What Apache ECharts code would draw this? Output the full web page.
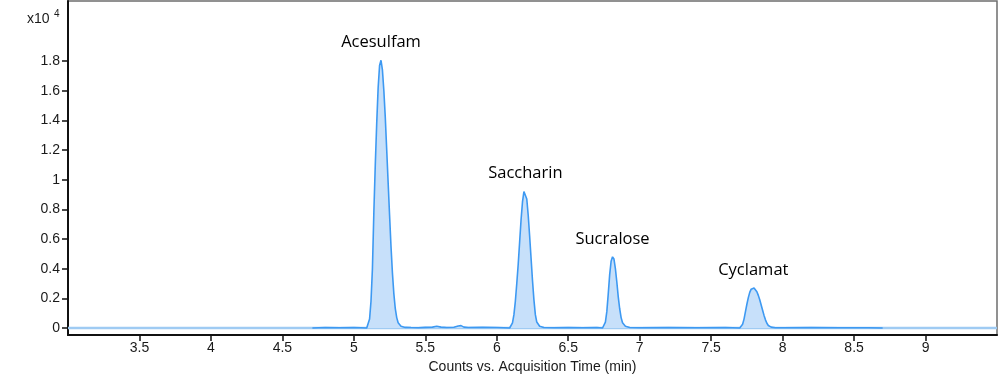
<!DOCTYPE html>
<html>
<head>
<meta charset="utf-8">
<script src="https://cdn.jsdelivr.net/npm/echarts@6/dist/echarts.min.js"></script>
<style>
html,body{margin:0;padding:0;background:#fff;}
#c{width:1000px;height:375px;}
</style>
</head>
<body>
<div id="c"></div>
<script>
// Acquisition time (min) and signal (counts) of the main trace
const times = [
  4.71, 4.80, 4.90, 5.00, 5.05,
  5.09, 5.10, 5.11, 5.12, 5.13, 5.14, 5.15, 5.16, 5.17, 5.18, 5.19, 5.20, 5.21, 5.22, 5.23, 5.24, 5.25, 5.26, 5.27, 5.28, 5.29, 5.30, 5.31, 5.33, 5.36,
  5.40, 5.45, 5.50, 5.55, 5.58, 5.61, 5.65, 5.70, 5.73, 5.75, 5.77, 5.80, 5.90, 6.00, 6.05,
  6.09, 6.10, 6.11, 6.12, 6.13, 6.14, 6.15, 6.16, 6.17, 6.18, 6.19, 6.20, 6.21, 6.22, 6.23, 6.24, 6.25, 6.26, 6.27, 6.28, 6.30, 6.33,
  6.40, 6.50, 6.60, 6.70,
  6.74, 6.75, 6.76, 6.77, 6.78, 6.79, 6.80, 6.81, 6.82, 6.83, 6.84, 6.85, 6.86, 6.87, 6.88, 6.90, 6.93,
  7.00, 7.20, 7.40, 7.60,
  7.70, 7.71, 7.72, 7.73, 7.74, 7.75, 7.76, 7.77, 7.78, 7.79, 7.80, 7.81, 7.82, 7.83, 7.84, 7.85, 7.86, 7.87, 7.88, 7.89, 7.90, 7.92, 7.95,
  8.00, 8.20, 8.40, 8.60, 8.70
];
const counts = [
  0, 30, 20, 30, 20,
  0, 100, 600, 1800, 4000, 7800, 11000, 13800, 16200, 17700, 18050, 17400, 16000, 14200, 12000, 9800, 7600, 5500, 3700, 2300, 1300, 700, 350, 120, 40,
  30, 20, 40, 60, 120, 60, 30, 50, 140, 160, 60, 30, 40, 30, 20,
  0, 80, 350, 900, 1800, 3000, 4300, 5800, 7300, 8500, 9200, 9250, 8700, 7600, 6200, 4700, 3200, 1900, 900, 400, 120, 30,
  20, 30, 20, 30,
  0, 100, 400, 1100, 2300, 3600, 4500, 4800, 4650, 4000, 3100, 2100, 1300, 700, 350, 120, 30,
  20, 30, 20, 30,
  0, 60, 250, 600, 1100, 1600, 2050, 2400, 2620, 2700, 2700, 2620, 2450, 2200, 1900, 1550, 1200, 850, 550, 320, 170, 60, 20,
  20, 30, 20, 20, 0
];
// Faint baseline trace over the whole window
const baseTimes = [3.0, 9.5];
const baseCounts = [0, 0];
// Peak annotations
const peakNames = ['Acesulfam', 'Saccharin', 'Sucralose', 'Cyclamat'];
const peakTimes = [5.19, 6.20, 6.81, 7.795];
const peakCounts = [18050, 9250, 4800, 2700];
// Axis ticks
const yTicks = [0, 2000, 4000, 6000, 8000, 10000, 12000, 14000, 16000, 18000];
const xTitle = 'Counts vs. Acquisition Time (min)';

const chart = echarts.init(document.getElementById('c'), null, {renderer: 'canvas'});
const tickFont = {fontFamily: 'Liberation Sans, Arial, sans-serif', fontSize: 14, color: '#1a1a1a'};

chart.setOption({
  animation: false,
  backgroundColor: '#fff',
  grid: {left: 68, right: 3, top: 1, bottom: 40, show: true, containLabel: false, outerBoundsMode: 'none',
         borderColor: '#6e6e6e', borderWidth: 1.5, backgroundColor: 'transparent'},
  graphic: [
    {type: 'text', left: 27, top: 12, style: {text: 'x10', fontFamily: 'Liberation Sans, Arial, sans-serif', fontSize: 14, fill: '#1a1a1a'}},
    {type: 'text', left: 54, top: 9, style: {text: '4', fontFamily: 'Liberation Sans, Arial, sans-serif', fontSize: 10, fill: '#1a1a1a'}}
  ],
  xAxis: {
    type: 'value', min: 3, max: 9.5, interval: 0.5,
    name: xTitle, nameLocation: 'middle', nameGap: 25,
    nameTextStyle: tickFont,
    axisLine: {show: true, onZero: false, lineStyle: {color: '#111', width: 2}},
    axisTick: {show: true, length: 6, lineStyle: {color: '#111', width: 1.5}},
    axisLabel: Object.assign({margin: 6, showMinLabel: false, showMaxLabel: false}, tickFont),
    splitLine: {show: false}
  },
  yAxis: {
    type: 'value', min: -472, max: 22050,
    axisLine: {show: true, onZero: false, lineStyle: {color: '#111', width: 2}},
    axisTick: {show: true, length: 6, customValues: yTicks, lineStyle: {color: '#111', width: 1.5}},
    axisLabel: Object.assign({margin: 8, customValues: yTicks, formatter: v => String(+(v / 10000).toFixed(1))}, tickFont),
    splitLine: {show: false}
  },
  series: [
    {
      type: 'line', data: baseTimes.map((t, i) => [t, baseCounts[i]]),
      symbol: 'none', silent: true, z: 1,
      lineStyle: {color: '#9fcbf3', width: 2.5}
    },
    {
      type: 'line', data: times.map((t, i) => [t, counts[i]]),
      symbol: 'none', z: 2,
      lineStyle: {color: '#3d99f2', width: 1.6},
      areaStyle: {color: '#c7e0fa', opacity: 1, origin: 0},
      markPoint: {
        symbol: 'circle', symbolSize: 0, silent: true,
        label: {show: true, position: 'inside', offset: [0, -18], color: '#000', fontFamily: 'Open Sans, sans-serif', fontSize: 16.5, formatter: p => p.name},
        data: peakNames.map((n, i) => ({name: n, coord: [peakTimes[i], peakCounts[i]]}))
      }
    }
  ]
});
</script>
</body>
</html>
